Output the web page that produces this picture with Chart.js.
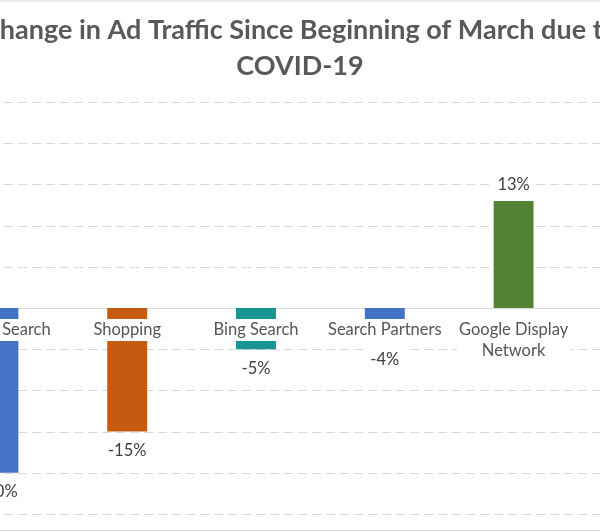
<!DOCTYPE html>
<html>
<head>
<meta charset="utf-8">
<script src="https://cdn.jsdelivr.net/npm/chart.js@4"></script>
<style>
  html, body { margin: 0; padding: 0; background: #fff; overflow: hidden; }
  body { width: 600px; height: 532px; position: relative; }
  #myChart { position: absolute; left: -110px; top: 0; }
</style>
</head>
<body>
<canvas id="myChart" width="820" height="532"></canvas>
<script>
// the picture is a crop of a wider Excel chart, so the canvas hangs off both sides
var titleLines = ["Change in Ad Traffic Since Beginning of March due to", "COVID-19"];
var categories = ["Google Search", "Shopping", "Bing Search", "Search Partners", ["Google Display", "Network"]];
var changes = [-20, -15, -5, -4, 13];
var barColors = ["#4472C4", "#C55A11", "#179595", "#4472C4", "#548235"];
var yMin = -25;
var yMax = 25;
var yStep = 5;

var FONT = "Lato, 'Noto Sans', sans-serif";

// gridlines run past the plot edge like in the cropped original
var gridPlugin = {
  id: "grid",
  beforeDatasetsDraw: function (chart) {
    var ctx = chart.ctx;
    var y = chart.scales.y;
    ctx.save();
    ctx.strokeStyle = "#d9d9d9";
    ctx.lineWidth = 1;
    y.ticks.forEach(function (t) {
      var py = Math.round(y.getPixelForValue(t.value)) + 0.5;
      ctx.setLineDash(t.value === 0 ? [] : [9, 5]);
      ctx.beginPath();
      ctx.moveTo(chart.chartArea.left, py);
      ctx.lineTo(chart.width, py);
      ctx.stroke();
    });
    ctx.setLineDash([]);
    // chart border top / bottom
    ctx.beginPath();
    ctx.moveTo(0, 1);
    ctx.lineTo(chart.width, 1);
    ctx.moveTo(0, chart.height - 1.5);
    ctx.lineTo(chart.width, chart.height - 1.5);
    ctx.stroke();
    ctx.restore();
  },
};

// title, category labels next to the zero line and value labels, all on white boxes
var labelPlugin = {
  id: "labels",
  afterDatasetsDraw: function (chart) {
    var ctx = chart.ctx;
    var zero = chart.scales.y.getPixelForValue(0);
    var meta = chart.getDatasetMeta(0);
    ctx.save();
    ctx.textAlign = "center";
    ctx.textBaseline = "middle";

    ctx.font = "bold 27px " + FONT;
    ctx.fillStyle = "#595959";
    ctx.fillText(titleLines[0], 410, 30);
    ctx.fillText(titleLines[1], 410, 66);

    ctx.font = "16.5px " + FONT;
    meta.data.forEach(function (bar, i) {
      var lines = [].concat(categories[i]);
      var w = 0;
      lines.forEach(function (l) { w = Math.max(w, ctx.measureText(l).width); });
      ctx.fillStyle = "#fff";
      ctx.fillRect(bar.x - w / 2 - 2, zero + 11, w + 4, lines.length * 21 + 1);
      ctx.fillStyle = "#555555";
      lines.forEach(function (l, j) {
        ctx.fillText(l, bar.x, zero + 22 + j * 21);
      });
    });

    ctx.font = "16.5px " + FONT;
    meta.data.forEach(function (bar, i) {
      var v = changes[i];
      var txt = v + "%";
      var cy = v < 0 ? bar.y + 19 : bar.y - 16;
      var w = ctx.measureText(txt).width;
      ctx.fillStyle = "#fff";
      ctx.fillRect(bar.x - w / 2 - 6, cy - 11, w + 12, 22);
      ctx.fillStyle = "#404040";
      ctx.fillText(txt, bar.x, cy);
    });
    ctx.restore();
  },
};

var ctx = document.getElementById("myChart").getContext("2d");
var myChart = new Chart(ctx, {
  type: "bar",
  data: {
    labels: categories,
    datasets: [
      {
        data: changes,
        backgroundColor: barColors,
        categoryPercentage: 1,
        barPercentage: 0.31,
      },
    ],
  },
  options: {
    responsive: false,
    animation: false,
    layout: { padding: { left: 44, right: 132, top: 102, bottom: 18 } },
    plugins: {
      legend: { display: false },
      tooltip: { enabled: false },
      title: { display: false },
    },
    scales: {
      x: { display: false },
      y: {
        display: false,
        min: yMin,
        max: yMax,
        ticks: { stepSize: yStep },
      },
    },
  },
  plugins: [gridPlugin, labelPlugin],
});
</script>
</body>
</html>
